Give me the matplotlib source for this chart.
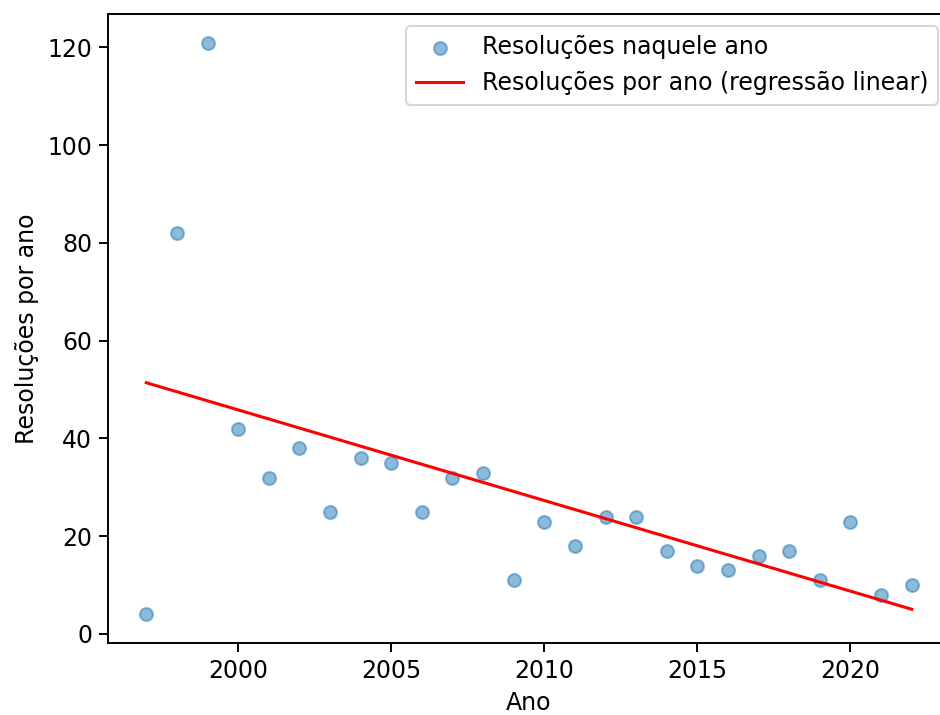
import numpy as np
import matplotlib
matplotlib.use("Agg")
import matplotlib.pyplot as plt

anos = list(range(1997, 2023))
resolucoes = [4, 82, 121, 42, 32, 38, 25, 36, 35, 25, 32, 33, 11,
              23, 18, 24, 24, 17, 14, 13, 16, 17, 11, 23, 8, 10]


def main():
    plt.rcParams["font.size"] = 11.6
    plt.rcParams["axes.linewidth"] = 0.95
    plt.rcParams["xtick.major.size"] = 4.3
    plt.rcParams["ytick.major.size"] = 4.3
    plt.rcParams["xtick.major.width"] = 0.95
    plt.rcParams["ytick.major.width"] = 0.95

    x = np.array(anos)
    y = np.array(resolucoes)
    a, b = np.polyfit(x, y, 1)

    dpi = 147
    fig = plt.figure(figsize=(940 / dpi, 715 / dpi), dpi=dpi)
    ax = fig.add_axes([108 / 940, 72 / 715, (950 - 108) / 940, (701 - 72) / 715])
    ax.scatter(x, y, alpha=0.5, s=40, label="Resoluções naquele ano")
    ax.plot(x, a * x + b, color="red", label="Resoluções por ano (regressão linear)")
    ax.set_xlabel("Ano")
    ax.set_ylabel("Resoluções por ano")
    ax.legend(loc="upper right")
    fig.savefig("out.png", dpi=dpi)


if __name__ == "__main__":
    main()
